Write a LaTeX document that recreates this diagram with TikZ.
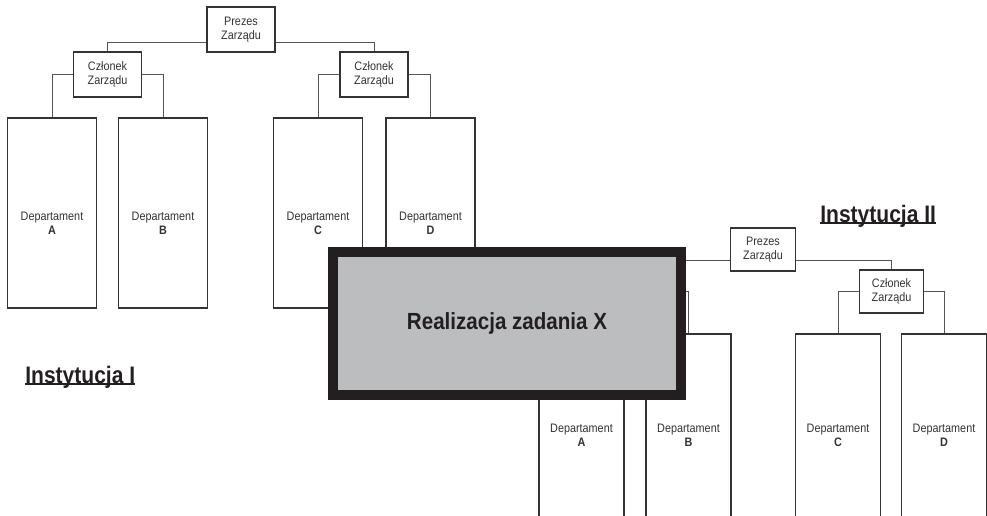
\documentclass[tikz,border=0pt]{standalone}
\usepackage{fontspec}
\setmainfont{Liberation Sans}[FakeStretch=0.88]
\usetikzlibrary{positioning,calc}
\definecolor{boxline}{HTML}{333333}
\definecolor{connline}{HTML}{555555}
\definecolor{taskfill}{HTML}{BCBDBF}
\definecolor{taskline}{HTML}{231F20}
\newcommand{\instul}[1]{\setbox0\hbox{#1}\rlap{\rule[-1.3pt]{\wd0}{1.1pt}}\box0}
\tikzset{
  mgmt/.style={rectangle, draw=boxline, line width=0.8pt, fill=white, align=center,
               text=boxline, font=\fontsize{7}{8}\selectfont, inner sep=1pt},
  mgmtI/.style={mgmt, minimum width=1.36cm, minimum height=0.9cm},
  mgmtII/.style={mgmt, minimum width=1.29cm, minimum height=0.86cm},
  dept/.style={rectangle, draw=boxline, line width=0.8pt, fill=white},
  deptI/.style={dept, minimum width=1.78cm, minimum height=3.8cm},
  deptII/.style={dept, minimum width=1.7cm, minimum height=3.68cm},
  deptlbl/.style={align=center, text=boxline, font=\fontsize{7}{8}\selectfont},
  conn/.style={draw=connline, line width=0.5pt},
  task/.style={rectangle, draw=taskline, line width=5.67pt, fill=taskfill,
               minimum width=6.96cm, minimum height=2.86cm, text=taskline,
               font=\bfseries\fontsize{13.3}{16}\selectfont},
  inst/.style={anchor=base west, inner sep=0pt, text=taskline,
               font=\bfseries\fontsize{13.6}{16}\selectfont}
}

\begin{document}
\begin{tikzpicture}[x=0.02cm, y=-0.02cm]
  \useasboundingbox (0,0) rectangle (987,515);
  % Instytucja II
  \node[mgmtII] (pres2) at (763,249.5) {Prezes\\Zarządu};
  \node[mgmtII] (czl2L) at (634.5,291.5) {Członek\\Zarządu};
  \node[mgmtII] (czl2R) at (891.5,291.5) {Członek\\Zarządu};
  \foreach \n/\x in {A/581.5,B/688.5,C/838,D/944}
    \node[deptII, label={[deptlbl,yshift=-5.4pt]center:{Departament\\\textbf{\n}}}] (dep\n2) at (\x,426) {};
  % Instytucja I
  \node[mgmtI] (pres1) at (241,29.5) {Prezes\\Zarządu};
  \node[mgmtI] (czl1L) at (107.5,74.5) {Członek\\Zarządu};
  \node[mgmtI] (czl1R) at (374,74.5) {Członek\\Zarządu};
  \foreach \n/\x in {A/52,B/163,C/318,D/430.5}
    \node[deptI, label={[deptlbl,yshift=-6pt]center:{Departament\\\textbf{\n}}}] (dep\n1) at (\x,213) {};
  % connectors
  \draw[conn] ([yshift=-7.1pt]pres1.west) -| (czl1L.north);
  \draw[conn] ([yshift=-7.1pt]pres1.east) -| (czl1R.north);
  \draw[conn] ([yshift=-6pt]pres2.west) -| (czl2L.north);
  \draw[conn] ([yshift=-6pt]pres2.east) -| (czl2R.north);
  \foreach \c/\l/\r in {czl1L/depA1/depB1, czl1R/depC1/depD1, czl2L/depA2/depB2, czl2R/depC2/depD2} {
    \draw[conn] (\c.west) -| (\l.north);
    \draw[conn] (\c.east) -| (\r.north);
  }
  % zadanie
  \node[task] (task) at (507,323.5) {Realizacja zadania X};
  \node[inst] (inst1) at (25,383) {\instul{Instytucja I}};
  \node[inst] (inst2) at (820,222) {\instul{Instytucja II}};
\end{tikzpicture}
\end{document}
